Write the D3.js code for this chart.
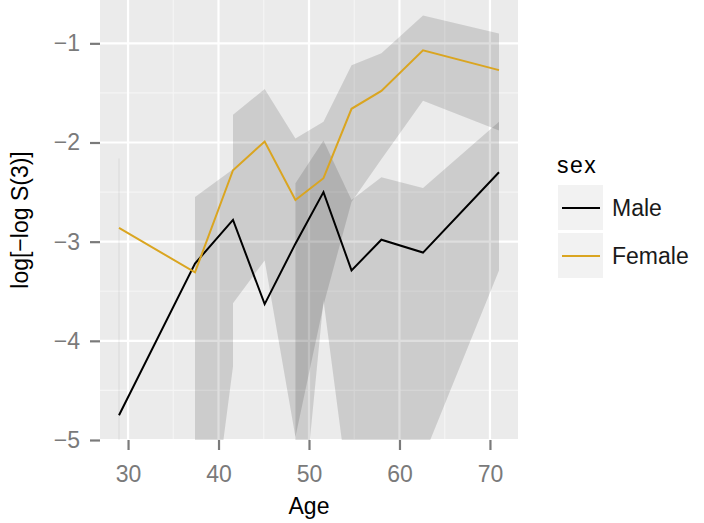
<!DOCTYPE html>
<html>
<head>
<meta charset="utf-8">
<script src="https://cdn.jsdelivr.net/npm/d3@7"></script>
<style>
  body { margin: 0; background: #fff; }
  text { font-family: "Liberation Sans", Arial, Helvetica, sans-serif; }
</style>
</head>
<body>
<div id="vis"></div>
<script>
// Data (log[-log S(3)] by age group)
const ages = [29, 37.4, 41.6, 45.1, 48.5, 51.6, 54.7, 58.0, 62.6, 71];
const maleEst   = [-4.75, -3.22, -2.78, -3.63, -3.02, -2.50, -3.29, -2.98, -3.11, -2.30];
const femaleEst = [-2.86, -3.31, -2.28, -1.99, -2.58, -2.36, -1.66, -1.48, -1.07, -1.27];
// confidence bands (null = not available)
const maleUpper   = [null, -2.55, -2.27, null, -2.41, -1.98, -2.58, -2.35, -2.46, -1.79];
const maleLower   = [null, -7.2, -4.26, null, -6.5, -3.59, -5.75, -5.6, -5.18, -3.29];
const femaleUpper = [-2.16, null, -1.72, -1.46, -1.96, -1.79, -1.22, -1.10, -0.72, -0.90];
const femaleLower = [-5.6, null, -3.62, -3.19, -4.97, -3.64, -2.60, -2.17, -1.58, -1.88];
const sexes = ["Male", "Female"];
const xTicks = [30, 40, 50, 60, 70];
const yTicks = [-5, -4, -3, -2, -1];

const width = 704, height = 523;
const panel = {left: 100, right: 518, top: 0, bottom: 440};
const colors = {Male: "#000000", Female: "#DAA520"};

const svg = d3.select("#vis").append("svg")
    .attr("width", width)
    .attr("height", height);

const x = d3.scaleLinear().domain([26.9, 73.1]).range([panel.left, panel.right]);
const y = d3.scaleLinear().domain([-5, -0.563]).range([panel.bottom, panel.top]);

// panel background + grid
svg.append("rect")
    .attr("x", panel.left).attr("y", panel.top)
    .attr("width", panel.right - panel.left)
    .attr("height", panel.bottom - panel.top)
    .attr("fill", "#EBEBEB");

svg.append("clipPath").attr("id", "clip")
  .append("rect")
    .attr("x", panel.left).attr("y", panel.top)
    .attr("width", panel.right - panel.left)
    .attr("height", panel.bottom - panel.top);

const plot = svg.append("g").attr("clip-path", "url(#clip)");

const xMinor = [35, 45, 55, 65];
const yMinor = [-4.5, -3.5, -2.5, -1.5];

plot.selectAll(".xminor").data(xMinor).join("line")
    .attr("x1", d => x(d)).attr("x2", d => x(d))
    .attr("y1", panel.top).attr("y2", panel.bottom)
    .attr("stroke", "#F5F5F5").attr("stroke-width", 1.1);
plot.selectAll(".yminor").data(yMinor).join("line")
    .attr("y1", d => y(d)).attr("y2", d => y(d))
    .attr("x1", panel.left).attr("x2", panel.right)
    .attr("stroke", "#F5F5F5").attr("stroke-width", 1.1);
plot.selectAll(".xmajor").data(xTicks).join("line")
    .attr("x1", d => x(d)).attr("x2", d => x(d))
    .attr("y1", panel.top).attr("y2", panel.bottom)
    .attr("stroke", "#fff").attr("stroke-width", 2.2);
plot.selectAll(".ymajor").data(yTicks).join("line")
    .attr("y1", d => y(d)).attr("y2", d => y(d))
    .attr("x1", panel.left).attr("x2", panel.right)
    .attr("stroke", "#fff").attr("stroke-width", 2.2);

// ribbons
function bandData(lo, hi) {
    return ages.map((a, i) => ({x: a, lo: lo[i], hi: hi[i]}));
}
const bands = [bandData(maleLower, maleUpper), bandData(femaleLower, femaleUpper)];

const area = d3.area()
    .defined(d => d.lo != null && d.hi != null)
    .x(d => x(d.x))
    .y0(d => y(d.lo))
    .y1(d => y(d.hi));

bands.forEach(b => {
    plot.append("path")
        .attr("d", area(b))
        .attr("fill", "#000")
        .attr("fill-opacity", 0.13);
    // isolated points show up as a hairline
    b.forEach((d, i) => {
        const ok = p => p && p.lo != null && p.hi != null;
        if (ok(d) && !ok(b[i - 1]) && !ok(b[i + 1])) {
            plot.append("line")
                .attr("x1", x(d.x)).attr("x2", x(d.x))
                .attr("y1", y(d.hi)).attr("y2", y(d.lo))
                .attr("stroke", "#000").attr("stroke-opacity", 0.07)
                .attr("stroke-width", 1);
        }
    });
});

// lines
const line = d3.line().x(d => x(d[0])).y(d => y(d[1]));
[maleEst, femaleEst].forEach((vals, k) => {
    plot.append("path")
        .attr("d", line(ages.map((a, i) => [a, vals[i]])))
        .attr("fill", "none")
        .attr("stroke", colors[sexes[k]])
        .attr("stroke-width", 2)
        .attr("stroke-linejoin", "miter");
});

// axes
const xAxis = svg.append("g")
    .attr("transform", `translate(0,${panel.bottom})`)
    .call(d3.axisBottom(x).tickValues(xTicks).tickSize(10).tickPadding(16));
const yAxis = svg.append("g")
    .attr("transform", `translate(${panel.left},0)`)
    .call(d3.axisLeft(y).tickValues(yTicks).tickFormat(d3.format("d"))
        .tickSize(10).tickPadding(10));

[xAxis, yAxis].forEach(g => {
    g.select(".domain").remove();
    g.selectAll(".tick line").attr("stroke", "#7A7A7A").attr("stroke-width", 2.2);
    g.selectAll(".tick text")
        .attr("fill", "#7A7A7A")
        .style("font-size", "23px")
        .style("font-family", "'Liberation Sans', Arial, sans-serif");
});

svg.append("text")
    .attr("x", (panel.left + panel.right) / 2)
    .attr("y", 514)
    .attr("text-anchor", "middle")
    .style("font-size", "23px")
    .text("Age");

svg.append("text")
    .attr("transform", `translate(28,${(panel.top + panel.bottom) / 2}) rotate(-90)`)
    .attr("text-anchor", "middle")
    .style("font-size", "23px")
    .text("log[\u2212log S(3)]");

// legend
const legend = svg.append("g");
legend.append("text")
    .attr("x", 557).attr("y", 173)
    .style("font-size", "23px")
    .style("letter-spacing", "1.5px")
    .text("sex");

sexes.forEach((s, i) => {
    const top = 185 + i * 48;
    legend.append("rect")
        .attr("x", 558).attr("y", top)
        .attr("width", 45).attr("height", 45)
        .attr("fill", "#F2F2F2");
    legend.append("line")
        .attr("x1", 562).attr("x2", 600)
        .attr("y1", top + 23).attr("y2", top + 23)
        .attr("stroke", colors[s])
        .attr("stroke-width", 2.2);
    legend.append("text")
        .attr("x", 612).attr("y", top + 31)
        .style("font-size", "23px")
        .attr("fill", "#1a1a1a")
        .text(s);
});
</script>
</body>
</html>
